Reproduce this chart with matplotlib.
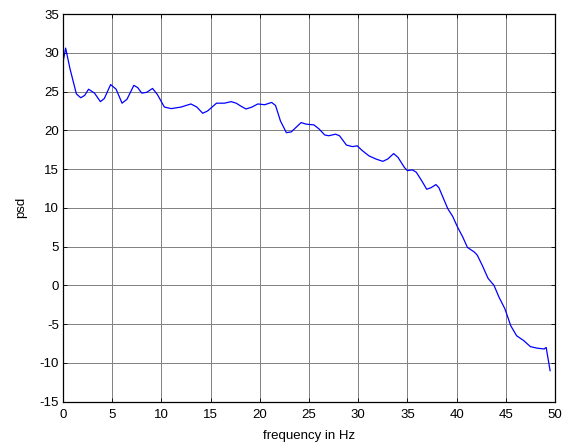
import matplotlib
matplotlib.use("Agg")
import matplotlib.pyplot as plt

freq = [0, 0.27, 0.7, 1.36, 1.8, 2.2, 2.6, 3.2, 3.8, 4.2, 4.84, 5.4, 6.0, 6.5, 7.2,
        7.6, 8.0, 8.5, 9.1, 9.6, 10.3, 11.0, 12.0, 13.0, 13.6, 14.2, 14.7, 15.6, 16.4,
        17.1, 17.6, 18.1, 18.6, 19.2, 19.8, 20.5, 21.2, 21.6, 22.1, 22.7, 23.2, 23.7,
        24.2, 24.7, 25.5, 26.0, 26.6, 27.0, 27.7, 28.1, 28.8, 29.4, 29.9, 30.4, 31.1,
        31.8, 32.5, 33.0, 33.6, 34.05, 34.7, 35.0, 35.5, 35.9, 36.5, 36.96, 37.4, 37.9,
        38.2, 38.6, 39.1, 39.6, 40.1, 40.6, 41.1, 41.8, 42.1, 42.6, 43.2, 43.8, 44.3,
        44.9, 45.5, 46.1, 46.8, 47.5, 48.2, 48.9, 49.1, 49.5]
psd = [28.8, 30.6, 28.0, 24.7, 24.2, 24.5, 25.3, 24.8, 23.7, 24.1, 25.9, 25.3, 23.5,
       24.0, 25.8, 25.5, 24.8, 24.9, 25.4, 24.6, 23.0, 22.8, 23.0, 23.4, 23.0, 22.2,
       22.5, 23.5, 23.5, 23.7, 23.5, 23.1, 22.75, 23.0, 23.4, 23.3, 23.6, 23.2, 21.2,
       19.7, 19.8, 20.4, 21.0, 20.8, 20.7, 20.2, 19.4, 19.3, 19.5, 19.3, 18.1, 17.9,
       18.0, 17.4, 16.7, 16.3, 16.0, 16.3, 17.0, 16.5, 15.2, 14.8, 14.9, 14.6, 13.4,
       12.4, 12.6, 13.0, 12.6, 11.4, 9.9, 8.9, 7.5, 6.3, 4.9, 4.3, 3.9, 2.6, 0.9, 0.0,
       -1.5, -3.0, -5.2, -6.5, -7.1, -7.9, -8.1, -8.2, -8.0, -11.0]
xticks = list(range(0, 51, 5))
yticks = list(range(-15, 36, 5))

plt.rcParams['font.family'] = ['Liberation Sans', 'DejaVu Sans']
plt.rcParams['axes.unicode_minus'] = False
fig = plt.figure(figsize=(5.66, 4.45), dpi=100)
ax = fig.add_axes([0.1113, 0.0973, 0.9806 - 0.1113, 0.9685 - 0.0973])
ax.plot(freq, psd, color='#0000ff', lw=0.9)
ax.set_xlim(0, 50)
ax.set_ylim(-15, 35)
ax.set_xticks(xticks)
ax.set_yticks(yticks)
ax.grid(True, color='0.5', lw=0.7, ls='-')
ax.tick_params(direction='in', top=True, right=True, labelsize=9.5, length=3, width=0.6)
ax.tick_params(axis='y', pad=3)
ax.tick_params(axis='x', pad=5)
for s in ax.spines.values():
    s.set_linewidth(0.9)
ax.set_xlabel('frequency in Hz', fontsize=9.5, labelpad=7)
ax.set_ylabel('psd', fontsize=9.5, labelpad=9)
fig.savefig('out.png', dpi=100)
